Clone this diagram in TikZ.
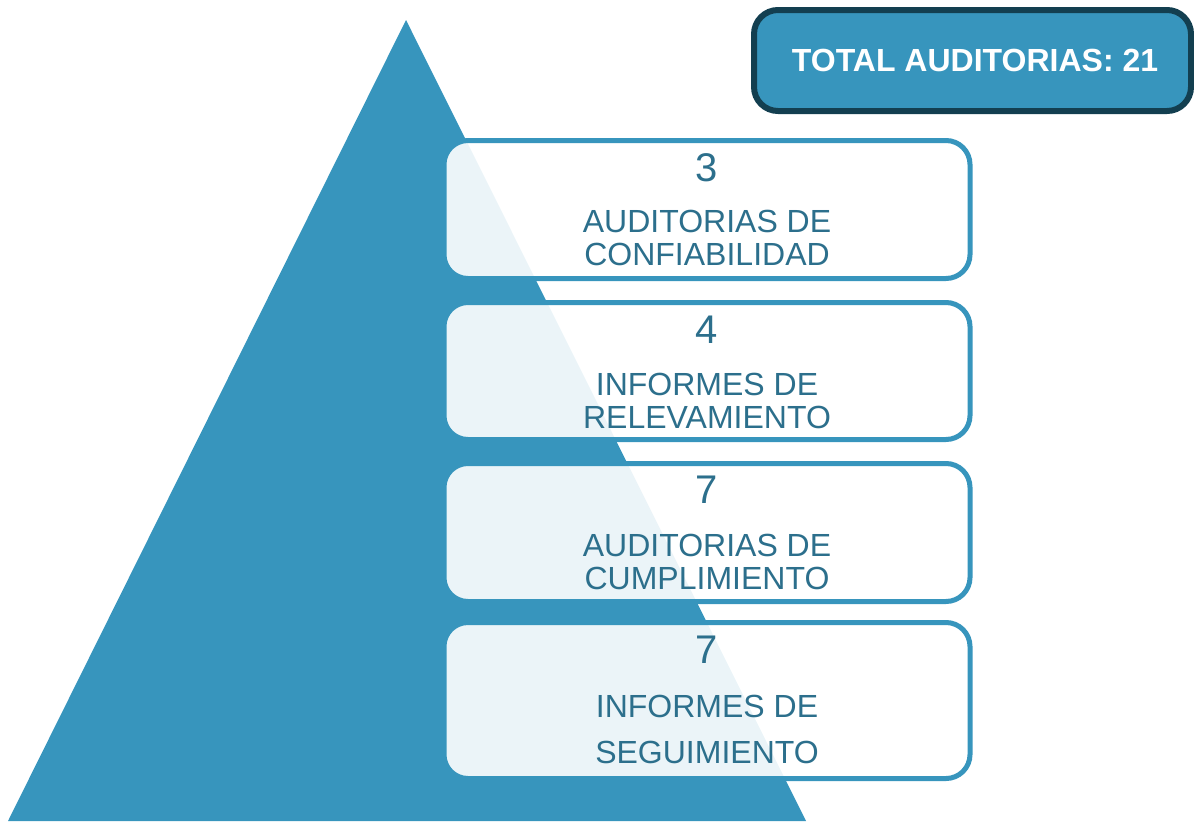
\documentclass[tikz,border=0pt]{standalone}
\usepackage{fontspec}
\setmainfont{Liberation Sans}
\definecolor{triblue}{HTML}{3795BD}
\definecolor{txtblue}{HTML}{2C6F8C}
\definecolor{darkedge}{HTML}{133F50}

\begin{document}
\begin{tikzpicture}[x=0.75pt, y=-0.75pt]
    % ==========================
    % estilos
    % ==========================
    \tikzset{
        levelbox/.style={draw=triblue, line width=3.75pt, fill=white, fill opacity=0.9,
            rounded corners=18pt, minimum width=394.5pt}, % caja de nivel
        numtext/.style={text=txtblue, font=\fontsize{30}{32}\selectfont}, % cantidad
        lbltext/.style={text=txtblue, font=\fontsize{24}{24.75}\selectfont, align=center} % descripcion
    }
    \useasboundingbox (0,0) rectangle (1194,821);

    % ==========================
    % 1. piramide
    % ==========================
    \coordinate (apex) at (406,20);
    \coordinate (baseL) at (8,821);
    \coordinate (baseR) at (806,821);
    \fill[triblue] (apex) -- (baseR) -- (baseL) -- cycle;

    % ==========================
    % 2. total
    % ==========================
    \node[draw=darkedge, line width=4.5pt, fill=triblue, rounded corners=18pt,
        minimum width=327.75pt, minimum height=75.75pt] (total) at (972.5,60.5) {};
    \node[text=white, font=\fontsize{24}{26}\selectfont\bfseries] (totaltxt) at (975,60)
        {TOTAL AUDITORIAS: 21};

    % ==========================
    % 3. niveles
    % ==========================
    % confiabilidad
    \node[levelbox, minimum height=103.5pt] (conf) at (707,209.5) {};
    \node[numtext] (confnum) at (707,168) {3};
    \node[lbltext] (conflbl) at (707,238) {AUDITORIAS DE\\CONFIABILIDAD};

    % relevamiento
    \node[levelbox, minimum height=102.75pt] (relev) at (707,371) {};
    \node[numtext] (relevnum) at (707,330) {4};
    \node[lbltext] (relevlbl) at (707,401) {INFORMES DE\\RELEVAMIENTO};

    % cumplimiento
    \node[levelbox, minimum height=103.5pt] (cumpl) at (707,532.5) {};
    \node[numtext] (cumplnum) at (707,490) {7};
    \node[lbltext] (cumpllbl) at (707,562) {AUDITORIAS DE\\CUMPLIMIENTO};

    % seguimiento
    \node[levelbox, minimum height=117pt] (segui) at (707,700.5) {};
    \node[numtext] (seguinum) at (707,650) {7};
    \node[lbltext, font=\fontsize{24}{34.5}\selectfont] (seguilbl) at (707,729)
        {INFORMES DE\\SEGUIMIENTO};

\end{tikzpicture}
\end{document}
